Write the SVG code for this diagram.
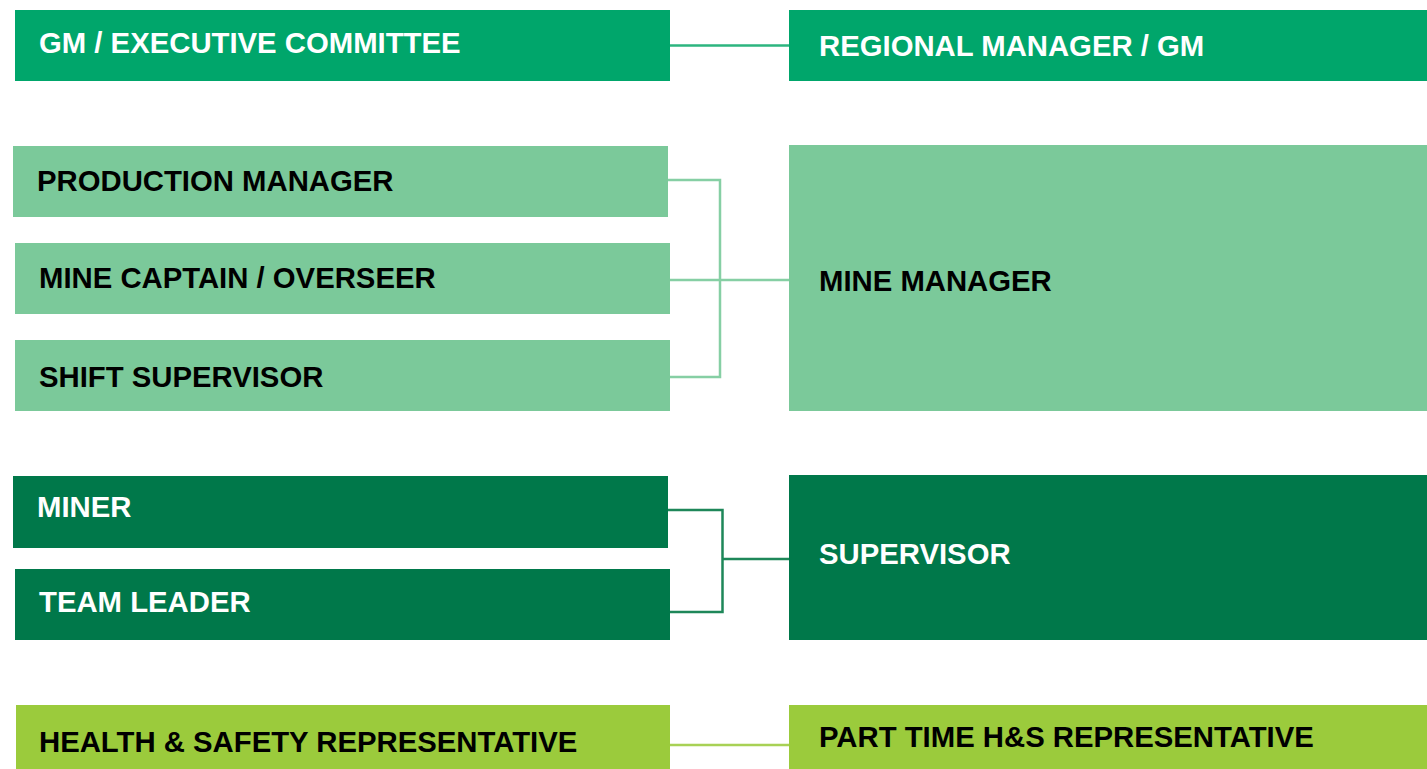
<svg xmlns="http://www.w3.org/2000/svg" width="1427" height="769" viewBox="0 0 1427 769">
  <style>
    .lbl { font-family: "Liberation Sans", Arial, sans-serif; font-weight: bold; font-size: 29.3px; }
    .w { fill: #ffffff; }
    .k { fill: #000000; }
    .exec { fill: #00A66B; }
    .mgmt { fill: #7BC99A; }
    .crew { fill: #00784A; }
    .hs { fill: #9BCB3C; }
    .conn { fill: none; stroke-width: 2.5; }
  </style>
  <rect width="1427" height="769" fill="#ffffff"/>

  <!-- reporting lines -->
  <g id="connectors">
    <line class="conn" stroke="#2DB57F" x1="670" y1="45.5" x2="789" y2="45.5"/>
    <polyline class="conn" stroke="#86CFA4" points="668,180 720,180 720,377 670,377"/>
    <line class="conn" stroke="#86CFA4" x1="670" y1="280" x2="789" y2="280"/>
    <polyline class="conn" stroke="#1E8759" points="668,510 722.5,510 722.5,612 670,612"/>
    <line class="conn" stroke="#1E8759" x1="722.5" y1="559" x2="789" y2="559"/>
    <line class="conn" stroke="#A8D155" x1="670" y1="745" x2="789" y2="745"/>
  </g>

  <g id="gm-executive-committee">
    <rect class="exec" x="15" y="10" width="655" height="71"/>
    <text class="lbl w" x="39" y="53">GM / EXECUTIVE COMMITTEE</text>
  </g>
  <g id="regional-manager">
    <rect class="exec" x="789" y="10" width="638" height="71"/>
    <text class="lbl w" x="819" y="56">REGIONAL MANAGER / GM</text>
  </g>

  <g id="production-manager">
    <rect class="mgmt" x="13" y="146" width="655" height="71"/>
    <text class="lbl k" x="37" y="191">PRODUCTION MANAGER</text>
  </g>
  <g id="mine-captain">
    <rect class="mgmt" x="15" y="243" width="655" height="71"/>
    <text class="lbl k" x="39" y="288">MINE CAPTAIN / OVERSEER</text>
  </g>
  <g id="shift-supervisor">
    <rect class="mgmt" x="15" y="340" width="655" height="71"/>
    <text class="lbl k" x="39" y="387">SHIFT SUPERVISOR</text>
  </g>
  <g id="mine-manager">
    <rect class="mgmt" x="789" y="145" width="638" height="266"/>
    <text class="lbl k" x="819" y="291">MINE MANAGER</text>
  </g>

  <g id="miner">
    <rect class="crew" x="13" y="476" width="655" height="72"/>
    <text class="lbl w" x="37" y="517">MINER</text>
  </g>
  <g id="team-leader">
    <rect class="crew" x="15" y="569" width="655" height="71"/>
    <text class="lbl w" x="39" y="612">TEAM LEADER</text>
  </g>
  <g id="supervisor">
    <rect class="crew" x="789" y="475" width="638" height="165"/>
    <text class="lbl w" x="819" y="564">SUPERVISOR</text>
  </g>

  <g id="health-safety-rep">
    <rect class="hs" x="16" y="705" width="654" height="64"/>
    <text class="lbl k" x="39" y="752">HEALTH &amp; SAFETY REPRESENTATIVE</text>
  </g>
  <g id="part-time-hs-rep">
    <rect class="hs" x="789" y="705" width="638" height="64"/>
    <text class="lbl k" x="819" y="747">PART TIME H&amp;S REPRESENTATIVE</text>
  </g>
</svg>
